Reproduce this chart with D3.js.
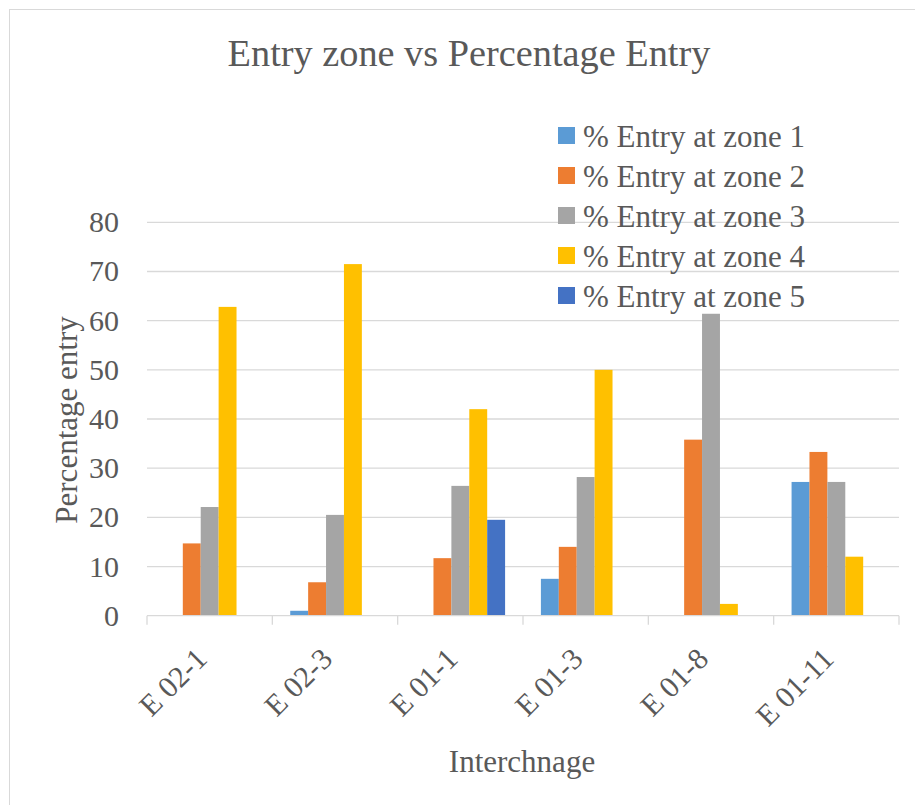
<!DOCTYPE html>
<html>
<head>
<meta charset="utf-8">
<script src="https://cdn.jsdelivr.net/npm/d3@7"></script>
<style>
  html, body { margin: 0; padding: 0; background: #fff; }
  svg text { fill: #595959; }
</style>
</head>
<body>
<svg id="chart" width="915" height="805"></svg>
<script>
const categories = ["E 02-1", "E 02-3", "E 01-1", "E 01-3", "E 01-8", "E 01-11"];
const seriesNames = ["% Entry at zone 1", "% Entry at zone 2", "% Entry at zone 3", "% Entry at zone 4", "% Entry at zone 5"];
const zone1 = [0, 1.0, 0, 7.5, 0, 27.2];
const zone2 = [14.7, 6.8, 11.7, 14.0, 35.8, 33.3];
const zone3 = [22.1, 20.5, 26.4, 28.2, 61.4, 27.2];
const zone4 = [62.8, 71.5, 42.0, 50.0, 2.4, 12.0];
const zone5 = [0, 0, 19.5, 0, 0, 0];
const yTicks = [0, 10, 20, 30, 40, 50, 60, 70, 80];
const colors = ["#5B9BD5", "#ED7D31", "#A5A5A5", "#FFC000", "#4472C4"];

const FONT = "'Liberation Serif', 'Times New Roman', Times, 'DejaVu Serif', serif";
const allSeries = [zone1, zone2, zone3, zone4, zone5];
const svg = d3.select("#chart").style("font-family", FONT);

// measure font to fit reference widths
const probe = svg.append("text").attr("font-size", 100).text("Entry zone vs Percentage Entry");
const k = 483 / probe.node().getComputedTextLength();
probe.remove();
const fs = s => (s * k * 100 / 38.3);

// chart border (left/top visible)
svg.append("rect").attr("x", 9.5).attr("y", 9.5).attr("width", 930).attr("height", 830)
  .attr("fill", "none").attr("stroke", "#d9d9d9").attr("stroke-width", 1);

const pLeft = 147, pRight = 899, pTop = 222.3, pBottom = 615.7;

const x = d3.scaleBand().domain(categories).range([pLeft, pRight]).paddingInner(0).paddingOuter(0);
const y = d3.scaleLinear().domain([0, 80]).range([pBottom, pTop]);
const xs = d3.scaleBand().domain(d3.range(seriesNames.length))
  .range([x.bandwidth() / 7, x.bandwidth() * 6 / 7]).padding(0);

// gridlines
svg.append("g").selectAll("line").data(yTicks.filter(d => d > 0)).join("line")
  .attr("x1", pLeft).attr("x2", pRight)
  .attr("y1", d => y(d)).attr("y2", d => y(d))
  .attr("stroke", "#d9d9d9").attr("stroke-width", 1.3);

// y tick labels
svg.append("g").selectAll("text").data(yTicks).join("text")
  .attr("x", 119).attr("y", d => y(d) + 10)
  .attr("text-anchor", "end").attr("font-size", fs(30))
  .text(d => d);

// bars
const groups = svg.append("g").selectAll("g").data(categories).join("g")
  .attr("transform", d => `translate(${x(d)},0)`);
groups.selectAll("rect").data((c, i) => allSeries.map((s, j) => ({ j, v: s[i] })))
  .join("rect")
  .attr("x", d => xs(d.j))
  .attr("width", xs.bandwidth())
  .attr("y", d => y(d.v))
  .attr("height", d => y(0) - y(d.v))
  .attr("fill", d => colors[d.j]);

// x axis line and ticks
svg.append("line").attr("x1", pLeft).attr("x2", pRight).attr("y1", pBottom).attr("y2", pBottom)
  .attr("stroke", "#d9d9d9").attr("stroke-width", 1.3);
const tickPos = categories.map(c => x(c)).concat([pRight]);
svg.append("g").selectAll("line").data(tickPos).join("line")
  .attr("x1", d => d).attr("x2", d => d).attr("y1", pBottom).attr("y2", pBottom + 9)
  .attr("stroke", "#d9d9d9").attr("stroke-width", 1.3);

// x labels rotated
svg.append("g").selectAll("text").data(categories).join("text")
  .attr("transform", d => `translate(${x(d) + x.bandwidth() / 2 - 1},${pBottom + 45}) rotate(-45)`)
  .attr("text-anchor", "end").attr("font-size", fs(30))
  .text(d => d);

// title
svg.append("text").attr("x", 469).attr("y", 66).attr("text-anchor", "middle")
  .attr("font-size", fs(38.3)).text("Entry zone vs Percentage Entry");

// axis titles
svg.append("text").attr("transform", "translate(77,420) rotate(-90)")
  .attr("text-anchor", "middle").attr("font-size", fs(31)).text("Percentage entry");
svg.append("text").attr("x", 522).attr("y", 772).attr("text-anchor", "middle")
  .attr("font-size", fs(31)).text("Interchnage");

// legend
const leg = svg.append("g").selectAll("g").data(seriesNames).join("g")
  .attr("transform", (d, i) => `translate(558,${127 + i * 40})`);
leg.append("rect").attr("width", 17).attr("height", 17).attr("fill", (d, i) => colors[i]);
leg.append("text").attr("x", 25).attr("y", 20).attr("font-size", fs(31)).text(d => d);
</script>
</body>
</html>
